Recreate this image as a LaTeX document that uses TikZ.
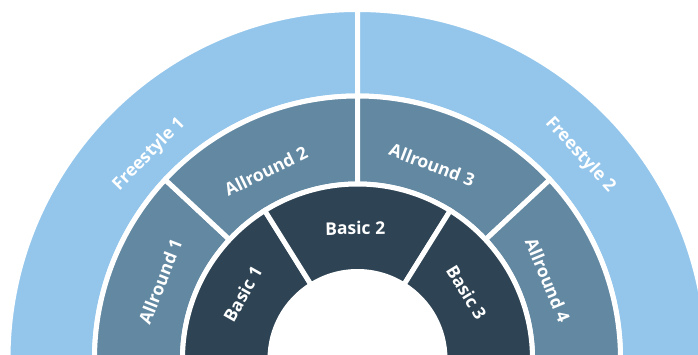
\documentclass[tikz,border=0pt]{standalone}
\usepackage{fontspec}
\setmainfont{Open Sans}
\newfontfamily\labelfont{Open Sans}[BoldFont={Open Sans Bold}]
\usetikzlibrary{positioning}
\definecolor{freecol}{RGB}{148,198,236}
\definecolor{allcol}{RGB}{98,136,162}
\definecolor{basiccol}{RGB}{46,68,84}
\tikzset{%
  ring/.style={draw=white,line width=5pt,line join=miter},
  seglabel/.style={text=white,font=\labelfont\bfseries\fontsize{17.5}{17.5}\selectfont,inner sep=0pt}%
}
% fill colour, start angle, end angle, inner radius, outer radius
\newcommand{\ringpart}[5]{%
  \filldraw[ring,fill=#1] (#2:#4) arc[start angle=#2,end angle=#3,radius=#4]
    -- (#3:#5) arc[start angle=#3,end angle=#2,radius=#5] -- cycle;}

\begin{document}
\begin{tikzpicture}[x=1pt,y=1pt]
    \useasboundingbox (-357.5,5) rectangle (340.5,359);
    \clip (-357.5,5) rectangle (340.5,359);

    % outer ring
    \ringpart{freecol}{180}{90}{263}{349.5}
    \ringpart{freecol}{90}{0}{263}{349.5}
    % middle ring
    \ringpart{allcol}{180}{137}{175}{263}
    \ringpart{allcol}{137}{90}{175}{263}
    \ringpart{allcol}{90}{43}{175}{263}
    \ringpart{allcol}{43}{0}{175}{263}
    % inner ring
    \ringpart{basiccol}{180}{122}{87.5}{175}
    \ringpart{basiccol}{122}{58}{87.5}{175}
    \ringpart{basiccol}{58}{0}{87.5}{175}

    \node (free_a) [seglabel, rotate=45.5] at (135.5:292) {Freestyle 1};
    \node (free_b) [seglabel, rotate=-47.5] at (42.5:302) {Freestyle 2};
    \node (all_a) [seglabel, rotate=68.5] at (158.5:212) {Allround 1};
    \node (all_b) [seglabel, rotate=26] at (116:209) {Allround 2};
    \node (all_c) [seglabel, rotate=-21] at (69:208) {Allround 3};
    \node (all_d) [seglabel, rotate=-67.5] at (22.5:206) {Allround 4};
    \node (basic_a) [seglabel, rotate=60.5] at (150.5:132) {Basic 1};
    \node (basic_b) [seglabel, rotate=1] at (91:131) {Basic 2};
    \node (basic_c) [seglabel, rotate=-58.5] at (31.5:128) {Basic 3};

\end{tikzpicture}
\end{document}
